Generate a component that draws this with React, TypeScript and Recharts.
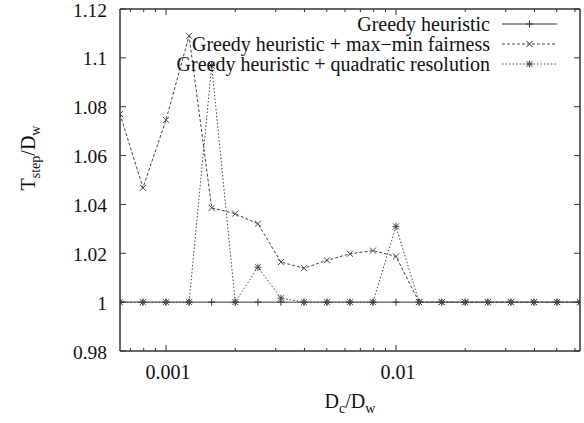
import React from 'react';
import { LineChart, Line, XAxis, YAxis, Legend, Customized } from 'recharts';

const xValues = [0.000631, 0.000794, 0.001, 0.00126, 0.00158, 0.002, 0.00251, 0.00316, 0.00398, 0.00501, 0.00631, 0.00794, 0.01, 0.0126, 0.0158, 0.02, 0.0251, 0.0316, 0.0398, 0.0501, 0.0631];
const greedy = [1, 1, 1, 1, 1, 1, 1, 1, 1, 1, 1, 1, 1, 1, 1, 1, 1, 1, 1, 1, 1];
const maxMin = [1.077, 1.0468, 1.0746, 1.109, 1.0386, 1.0362, 1.0321, 1.0164, 1.0139, 1.0171, 1.0198, 1.0211, 1.0187, 1.0, 1, 1, 1, 1, 1, 1, 1];
const quadratic = [1, 1, 1, 1, 1.0968, 1.0, 1.0143, 1.0016, 1, 1, 1, 1, 1.031, 1, 1, 1, 1, 1, 1, 1, 1];

const xDomain = [0.000631, 0.0631];
const xMajorTicks = [0.001, 0.01];
const xTickLabels = ['0.001', '0.01'];
const xAllTicks = [0.0007, 0.0008, 0.0009, 0.001, 0.002, 0.003, 0.004, 0.005, 0.006, 0.007, 0.008, 0.009, 0.01, 0.02, 0.03, 0.04, 0.05, 0.06];
const yTicks = [0.98, 1, 1.02, 1.04, 1.06, 1.08, 1.1, 1.12];
const yTickLabels = ['0.98', '1', '1.02', '1.04', '1.06', '1.08', '1.1', '1.12'];

const seriesNames = ['Greedy heuristic', 'Greedy heuristic + max\u2212min fairness', 'Greedy heuristic + quadratic resolution'];

const data = xValues.map((x, i) => ({ x, greedy: greedy[i], maxMin: maxMin[i], quadratic: quadratic[i] }));

const FONT = "'Liberation Serif', 'Times New Roman', 'DejaVu Serif', serif";
const FRAME = '#333';
const TEXT = '#111';
const TS: React.CSSProperties = { fontFamily: FONT, fontSize: 20 };
const TSY: React.CSSProperties = { fontFamily: FONT, fontSize: 19.5 };
const SUB: React.CSSProperties = { fontFamily: FONT, fontSize: 14 };

const isMajor = (v: number) => xMajorTicks.some((m) => Math.abs(m - v) / m < 1e-6);

const BottomTick = (props: any) => {
  const { x, y, payload } = props;
  const v = payload.value;
  const major = isMajor(v);
  const idx = xMajorTicks.findIndex((m) => Math.abs(m - v) / m < 1e-6);
  return (
    <g>
      <line x1={x} y1={y} x2={x} y2={y - (major ? 6 : 3)} stroke={FRAME} strokeWidth={1} />
      {major && (
        <text x={x + 2} y={y + 28} textAnchor="middle" style={TS} fill={TEXT}>
          {xTickLabels[idx]}
        </text>
      )}
    </g>
  );
};

const TopTick = (props: any) => {
  const { x, y, payload } = props;
  const major = isMajor(payload.value);
  return <line x1={x} y1={y} x2={x} y2={y + (major ? 6 : 3)} stroke={FRAME} strokeWidth={1} />;
};

const LeftTick = (props: any) => {
  const { x, y, payload } = props;
  const idx = yTicks.findIndex((t) => Math.abs(t - payload.value) < 1e-9);
  return (
    <g>
      <line x1={x} y1={y} x2={x + 6} y2={y} stroke={FRAME} strokeWidth={1} />
      <text x={x - 13} y={y + 7.5} textAnchor="end" style={TSY} fill={TEXT}>
        {yTickLabels[idx]}
      </text>
    </g>
  );
};

const RightTick = (props: any) => {
  const { x, y } = props;
  return <line x1={x} y1={y} x2={x - 6} y2={y} stroke={FRAME} strokeWidth={1} />;
};

const markerPlus = (cx: number, cy: number, color: string) => (
  <g>
    <line x1={cx - 3.5} y1={cy} x2={cx + 3.5} y2={cy} stroke={color} strokeWidth={1} />
    <line x1={cx} y1={cy - 3.5} x2={cx} y2={cy + 3.5} stroke={color} strokeWidth={1} />
  </g>
);
const markerCross = (cx: number, cy: number, color: string) => (
  <g>
    <line x1={cx - 3} y1={cy - 3} x2={cx + 3} y2={cy + 3} stroke={color} strokeWidth={1} />
    <line x1={cx - 3} y1={cy + 3} x2={cx + 3} y2={cy - 3} stroke={color} strokeWidth={1} />
  </g>
);
const markerStar = (cx: number, cy: number, color: string) => (
  <g>
    {markerPlus(cx, cy, color)}
    {markerCross(cx, cy, color)}
  </g>
);

const mkDot = (fn: (cx: number, cy: number, c: string) => React.ReactElement, color: string) => (props: any) => {
  const { cx, cy, index } = props;
  if (cx == null || cy == null) return <g key={index} />;
  return <g key={index}>{fn(cx, cy, color)}</g>;
};

const LINE_COLORS = ['#333', '#444', '#444'];
const DASHES = [undefined, '3 2', '1.5 2'];
const MARKERS = [markerPlus, markerCross, markerStar];

const LegendContent = () => (
  <svg width={584} height={80} style={{ display: 'block' }}>
    {seriesNames.map((name, i) => {
      const cy = 24 + i * 20;
      return (
        <g key={name}>
          <text x={490} y={cy + 7} textAnchor="end" style={TS} fill={TEXT}>
            {name}
          </text>
          <line x1={502} y1={cy} x2={557} y2={cy} stroke={LINE_COLORS[i]} strokeWidth={1} strokeDasharray={DASHES[i]} />
          {MARKERS[i](529.5, cy, LINE_COLORS[i])}
        </g>
      );
    })}
  </svg>
);

const Titles = () => (
  <g>
    <text x={350} y={408} textAnchor="middle" style={TS} fill={TEXT}>
      D<tspan style={SUB} dy={5}>c</tspan>
      <tspan dy={-5}>/D</tspan>
      <tspan style={SUB} dy={5}>w</tspan>
    </text>
    <text x={35} y={158} transform="rotate(-90 35 158)" textAnchor="middle" style={TS} fill={TEXT}>
      T<tspan style={SUB} dy={5}>step</tspan>
      <tspan dy={-5}>/D</tspan>
      <tspan style={SUB} dy={5}>w</tspan>
    </text>
  </g>
);

export default function App() {
  return (
    <div style={{ position: 'absolute', left: 0, top: 0, width: 584, height: 423, background: '#fff' }}>
      <LineChart width={584} height={423} data={data} margin={{ top: 0, right: 0, bottom: 0, left: 0 }}>
        <XAxis
          xAxisId="b"
          dataKey="x"
          type="number"
          scale="log"
          domain={xDomain}
          ticks={xAllTicks}
          interval={0}
          tickSize={0}
          tickMargin={0}
          height={72}
          tick={<BottomTick />}
          axisLine={{ stroke: FRAME, strokeWidth: 1.5 }}
          tickLine={false}
          allowDataOverflow
        />
        <XAxis
          xAxisId="t"
          orientation="top"
          dataKey="x"
          type="number"
          scale="log"
          domain={xDomain}
          ticks={xAllTicks}
          interval={0}
          tickSize={0}
          tickMargin={0}
          height={9}
          tick={<TopTick />}
          axisLine={{ stroke: FRAME, strokeWidth: 1.5 }}
          tickLine={false}
          allowDataOverflow
        />
        <YAxis
          yAxisId="l"
          type="number"
          domain={[0.98, 1.12]}
          ticks={yTicks}
          interval={0}
          tickSize={0}
          tickMargin={0}
          width={120}
          tick={<LeftTick />}
          axisLine={{ stroke: FRAME, strokeWidth: 1.5 }}
          tickLine={false}
          allowDataOverflow
        />
        <YAxis
          yAxisId="r"
          orientation="right"
          type="number"
          domain={[0.98, 1.12]}
          ticks={yTicks}
          interval={0}
          tickSize={0}
          tickMargin={0}
          width={4}
          tick={<RightTick />}
          axisLine={{ stroke: FRAME, strokeWidth: 1.5 }}
          tickLine={false}
          allowDataOverflow
        />
        <Legend
          layout="vertical"
          align="center"
          verticalAlign="middle"
          content={<LegendContent />}
          wrapperStyle={{ position: 'absolute', left: 0, top: 0, width: 584, height: 80 }}
        />
        <Line
          xAxisId="b"
          yAxisId="l"
          dataKey="greedy"
          name={seriesNames[0]}
          stroke={LINE_COLORS[0]}
          strokeWidth={1}
          dot={mkDot(markerPlus, LINE_COLORS[0])}
          activeDot={false}
          isAnimationActive={false}
          type="linear"
        />
        <Line
          xAxisId="b"
          yAxisId="l"
          dataKey="maxMin"
          name={seriesNames[1]}
          stroke={LINE_COLORS[1]}
          strokeWidth={1}
          strokeDasharray={DASHES[1]}
          dot={mkDot(markerCross, LINE_COLORS[1])}
          activeDot={false}
          isAnimationActive={false}
          type="linear"
        />
        <Line
          xAxisId="b"
          yAxisId="l"
          dataKey="quadratic"
          name={seriesNames[2]}
          stroke={LINE_COLORS[2]}
          strokeWidth={1}
          strokeDasharray={DASHES[2]}
          dot={mkDot(markerStar, LINE_COLORS[2])}
          activeDot={false}
          isAnimationActive={false}
          type="linear"
        />
        <Customized component={Titles} />
      </LineChart>
    </div>
  );
}
